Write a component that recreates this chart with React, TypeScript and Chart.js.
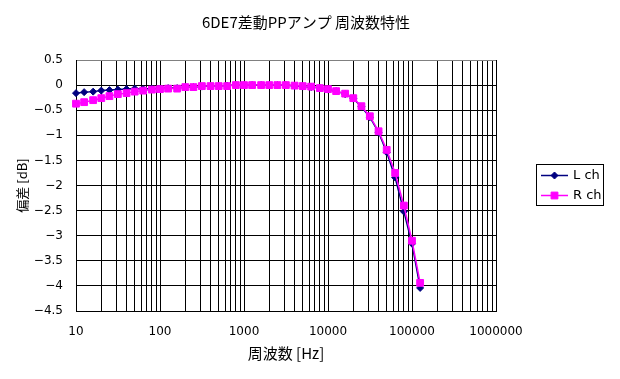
import React, { useEffect, useRef } from "react";
import { Chart, registerables } from "chart.js";

Chart.register(...registerables);

const chartTitle = "6DE7差動PPアンプ 周波数特性";
const xAxisTitle = "周波数 [Hz]";
const yAxisTitle = "偏差 [dB]";
const seriesNames = ["L ch", "R ch"];

const frequencies = [
  10, 12.5, 16, 20, 25, 31.5, 40, 50, 63, 80,
  100, 125, 160, 200, 250, 315, 400, 500, 630, 800,
  1000, 1250, 1600, 2000, 2500, 3150, 4000, 5000, 6300, 8000,
  10000, 12500, 16000, 20000, 25000, 31500, 40000, 50000, 63000, 80000,
  100000, 125000,
];

const lch = [
  -0.16, -0.14, -0.13, -0.11, -0.1, -0.09, -0.08, -0.07, -0.08, -0.07,
  -0.07, -0.06, -0.06, -0.04, -0.04, -0.03, -0.02, -0.02, -0.01, 0,
  0, 0, 0, 0, 0, 0, -0.02, -0.03, -0.04, -0.06,
  -0.09, -0.12, -0.18, -0.27, -0.43, -0.64, -0.94, -1.34, -1.84, -2.52,
  -3.16, -4.04,
];

const rch = [
  -0.37, -0.34, -0.3, -0.26, -0.22, -0.18, -0.16, -0.13, -0.11, -0.09,
  -0.08, -0.07, -0.07, -0.04, -0.04, -0.02, -0.02, -0.02, -0.02, 0,
  0, 0, 0, 0, 0, 0, -0.01, -0.02, -0.03, -0.06,
  -0.08, -0.12, -0.17, -0.26, -0.42, -0.62, -0.92, -1.29, -1.75, -2.4,
  -3.1, -3.94,
];

const xTickLabels = ["10", "100", "1000", "10000", "100000", "1000000"];
const yMin = -4.5;
const yMax = 0.5;
const yStep = 0.5;

const L_COLOR = "#000080";
const R_COLOR = "#FF00FF";
const CJK = "'Noto Sans CJK JP', 'DejaVu Sans', sans-serif";
const LAT = "'DejaVu Sans', 'Noto Sans CJK JP', sans-serif";

const decorPlugin = {
  id: "decor",
  afterDraw(chart: any) {
    const ctx = chart.ctx as CanvasRenderingContext2D;
    ctx.save();
    // title
    ctx.fillStyle = "#000";
    ctx.font = `15px ${CJK}`;
    ctx.textAlign = "center";
    ctx.textBaseline = "middle";
    ctx.fillText(chartTitle, 306, 22);

    // legend box
    ctx.strokeStyle = "#000";
    ctx.lineWidth = 1;
    ctx.strokeRect(536.5, 164.5, 67, 41);

    const rows = [
      { y: 175.5, color: L_COLOR, style: "rectRot", r: 3.5, name: seriesNames[0] },
      { y: 195.5, color: R_COLOR, style: "rect", r: 4.8, name: seriesNames[1] },
    ];
    rows.forEach((row) => {
      ctx.strokeStyle = row.color;
      ctx.lineWidth = 1.5;
      ctx.beginPath();
      ctx.moveTo(541, row.y);
      ctx.lineTo(568, row.y);
      ctx.stroke();
      ctx.fillStyle = row.color;
      ctx.lineWidth = 1;
      ctx.beginPath();
      if (row.style === "rectRot") {
        ctx.moveTo(554.5 - row.r, row.y);
        ctx.lineTo(554.5, row.y - row.r);
        ctx.lineTo(554.5 + row.r, row.y);
        ctx.lineTo(554.5, row.y + row.r);
        ctx.closePath();
      } else {
        const s = row.r * Math.SQRT1_2;
        ctx.rect(554.5 - s, row.y - s, 2 * s, 2 * s);
      }
      ctx.fill();
      ctx.stroke();
      ctx.fillStyle = "#000";
      ctx.font = `13px ${LAT}`;
      ctx.textAlign = "left";
      ctx.textBaseline = "middle";
      ctx.fillText(row.name, 573, row.y + 0.5);
    });
    ctx.restore();
  },
};

export default function App() {
  const canvasRef = useRef<HTMLCanvasElement | null>(null);

  useEffect(() => {
    document.body.style.margin = "0";
    const canvas = canvasRef.current;
    if (!canvas) return;

    const chart = new Chart(canvas, {
      type: "line",
      data: {
        datasets: [
          {
            label: seriesNames[0],
            data: frequencies.map((f, i) => ({ x: f, y: lch[i] })),
            borderColor: L_COLOR,
            backgroundColor: L_COLOR,
            borderWidth: 1.5,
            pointStyle: "rectRot",
            pointRadius: 3.5,
            pointBorderWidth: 1,
            pointBorderColor: L_COLOR,
            pointBackgroundColor: L_COLOR,
            tension: 0,
            clip: false as any,
            order: 2,
          },
          {
            label: seriesNames[1],
            data: frequencies.map((f, i) => ({ x: f, y: rch[i] })),
            borderColor: R_COLOR,
            backgroundColor: R_COLOR,
            borderWidth: 1.5,
            pointStyle: "rect",
            pointRadius: 4.8,
            pointBorderWidth: 1,
            pointBorderColor: R_COLOR,
            pointBackgroundColor: R_COLOR,
            tension: 0,
            clip: false as any,
            order: 1,
          },
        ],
      },
      options: {
        responsive: false,
        animation: false,
        devicePixelRatio: 1,
        layout: { padding: { top: 60, right: 124, left: 0, bottom: 0 } },
        plugins: {
          legend: { display: false },
          title: { display: false },
          tooltip: { enabled: false },
        },
        scales: {
          x: {
            type: "logarithmic",
            min: 10,
            max: 1000000,
            afterBuildTicks: (scale: any) => {
              const ticks: { value: number }[] = [];
              for (let d = 0; d < xTickLabels.length - 1; d++) {
                const base = Number(xTickLabels[d]);
                for (let m = 1; m <= 9; m++) ticks.push({ value: m * base });
              }
              ticks.push({ value: Number(xTickLabels[xTickLabels.length - 1]) });
              scale.ticks = ticks;
            },
            afterFit: (scale: any) => {
              scale.height = 68;
            },
            ticks: {
              autoSkip: false,
              maxRotation: 0,
              minRotation: 0,
              padding: 14,
              color: "#000",
              font: { family: LAT, size: 12 },
              callback: (value: any) => {
                const s = String(value);
                return xTickLabels.includes(s) ? s : "";
              },
            },
            grid: {
              color: "#000",
              lineWidth: 1,
              drawTicks: false,
            },
            border: { color: "#000", width: 1 },
            title: {
              display: true,
              text: xAxisTitle,
              color: "#000",
              font: { family: CJK, size: 15 },
              padding: { top: 0, bottom: 17 },
            },
          },
          y: {
            type: "linear",
            min: yMin,
            max: yMax,
            afterFit: (scale: any) => {
              scale.width = 76;
            },
            ticks: {
              stepSize: yStep,
              padding: 13,
              color: "#000",
              font: { family: LAT, size: 12 },
              callback: (value: any) => {
                const v = Math.round(Number(value) * 10) / 10;
                return String(v).replace("-", "\u2212");
              },
            },
            grid: {
              color: (c: any) =>
                c.tick && Math.abs(c.tick.value - yMax) < 1e-6 ? "#808080" : "#000",
              lineWidth: 1,
              drawTicks: false,
            },
            border: { color: "#000", width: 1 },
            title: {
              display: true,
              text: yAxisTitle,
              color: "#000",
              font: { family: CJK, size: 13 },
              padding: { top: 14, bottom: 0 },
            },
          },
        },
      },
      plugins: [decorPlugin],
    });

    return () => {
      chart.destroy();
    };
  }, []);

  return (
    <div style={{ position: "absolute", left: 0, top: 0, width: 620, height: 379 }}>
      <canvas ref={canvasRef} width={620} height={379} />
    </div>
  );
}
